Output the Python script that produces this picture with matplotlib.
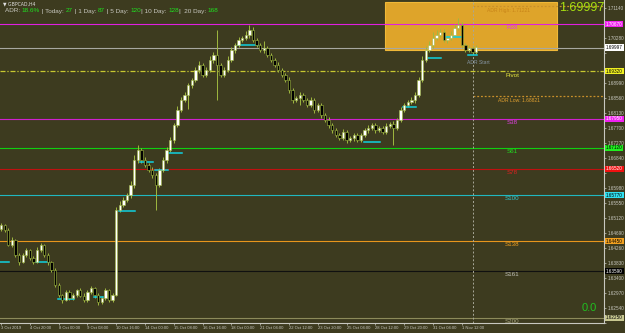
import matplotlib
matplotlib.use("Agg")
import matplotlib.pyplot as plt
from matplotlib.patches import Rectangle

plt.rcParams['font.family'] = ['Liberation Sans', 'DejaVu Sans']

# GBPCAD H4 closes, 3 Oct - 1 Nov 2019
closes = [1.6491, 1.6477, 1.6434, 1.6448, 1.6405, 1.6385,
          1.6405, 1.6419, 1.6397, 1.6385, 1.6419, 1.6434, 1.6405, 1.6385,
          1.6362, 1.6319, 1.6291, 1.6276, 1.6299, 1.6282,
          1.6291, 1.6305, 1.6288, 1.6276, 1.6299, 1.6311, 1.6291, 1.6271, 1.6282, 1.6305, 1.6276, 1.6291,
          1.6534,
          1.6548, 1.6563, 1.6577, 1.6606, 1.6677,
          1.6706,
          1.6677, 1.6663, 1.6649, 1.6634,
          1.6606,
          1.6649, 1.6677, 1.6706,
          1.6735, 1.6778, 1.6821, 1.6849,
          1.6864, 1.6892, 1.6907, 1.6935, 1.6950,
          1.6921, 1.6935, 1.6964, 1.6978, 1.6950, 1.6921, 1.6935,
          1.6964, 1.6993, 1.7007, 1.7021, 1.7027, 1.7036,
          1.7050,
          1.7021, 1.7007, 1.6993, 1.6998, 1.6978, 1.6964,
          1.6950, 1.6935, 1.6921, 1.6907, 1.6878, 1.6849,
          1.6855, 1.6864, 1.6849, 1.6835, 1.6849, 1.6821,
          1.6835, 1.6806, 1.6792, 1.6778, 1.6763,
          1.6749, 1.6740, 1.6758, 1.6735, 1.6740, 1.6749, 1.6735,
          1.6749, 1.6763, 1.6769, 1.6778, 1.6763, 1.6769, 1.6758, 1.6775, 1.6781, 1.6769,
          1.6792, 1.6821, 1.6835,
          1.6844, 1.6849, 1.6864,
          1.6907, 1.6964, 1.6993,
          1.7007, 1.7027, 1.7036,
          1.7044, 1.7021, 1.7027, 1.7036,
          1.7056, 1.7064, 1.7007,
          1.6993, 1.6998, 1.6987, 1.7000]
first_open = 1.6480
# wick lengths in pips
upper_pips = [6, 4, 5, 8, 3, 5, 7, 6, 4, 5, 8, 6, 4, 5,
              4, 5, 6, 3, 7, 5,
              6, 4, 5, 8, 6, 4, 3, 5, 7, 5, 4, 6,
              10,
              12, 8, 6, 10, 14,
              15,
              6, 8, 5, 7,
              6,
              5, 8, 9,
              7, 6, 10, 8,
              9, 6, 5, 8, 12,
              6, 8, 10, 9, 72, 6, 8,
              10, 8, 7, 9, 6, 12,
              14,
              8, 6, 5, 20, 7, 6,
              5, 8, 6, 7, 9, 5,
              6, 8, 5, 7, 10, 6,
              5, 7, 6, 8, 5,
              6, 5, 8, 6, 7, 5, 6,
              7, 6, 8, 5, 6, 7, 5, 9, 6, 8,
              6, 8, 7,
              6, 9, 7,
              8, 10, 12,
              10, 18, 14,
              9, 8, 10, 12,
              10, 20, 8,
              6, 8, 5, 7]
lower_pips = [5, 6, 4, 7, 5, 8, 4, 6, 5, 7, 4, 5, 6, 8,
              6, 5, 7, 8, 4, 6,
              5, 6, 4, 7, 5, 6, 8, 9, 5, 6, 7, 5,
              4,
              6, 5, 7, 8, 10,
              8,
              7, 6, 5, 8,
              72,
              6, 5, 7,
              6, 8, 5, 7,
              6, 40, 7, 5, 8,
              6, 7, 5, 8, 101, 6, 7,
              5, 6, 8, 7, 5, 6,
              8,
              6, 7, 5, 8, 6, 7,
              6, 5, 7, 6, 8, 7,
              6, 20, 5, 7, 6, 8,
              5, 7, 6, 8, 9,
              7, 6, 5, 8, 6, 7, 5,
              6, 5, 7, 6, 8, 5, 7, 6, 5, 49,
              6, 5, 7,
              6, 5, 8,
              6, 5, 7,
              6, 8, 5,
              7, 6, 8, 5,
              6, 5, 8,
              7, 6, 5, 6]

time_labels = ['3 Oct 2019', '4 Oct 20:00', '8 Oct 00:00', '9 Oct 08:00', '10 Oct 16:00',
               '14 Oct 00:00', '15 Oct 08:00', '16 Oct 16:00', '18 Oct 00:00', '21 Oct 04:00',
               '22 Oct 12:00', '23 Oct 20:00', '25 Oct 04:00', '28 Oct 12:00', '29 Oct 20:00',
               '31 Oct 04:00', '1 Nov 12:00']

level_names = ['R38', 'Pivot', 'S38', 'S61', 'S78', 'S100', 'S138', 'S161', 'S200']
level_prices = [1.7067, 1.6932, 1.6795, 1.6712, 1.6652, 1.6577, 1.6445, 1.6359, 1.6225]
level_colors = ['#e020e0', '#c8c830', '#d020d0', '#10d010', '#c01010', '#20b8c0', '#e8961c', '#101010', '#8c8a5a']
level_text_colors = ['#e040e0', '#e8e840', '#e040e0', '#20e020', '#e02020', '#30c8d0', '#f0a020', '#c0c0b8', '#a8a680']

bid = 1.69997
adr_high = 1.7119
adr_low = 1.6861
adr_start = 131

# cyan marks: (start bar, end bar, price)
mark_start = [0, 10, 16, 26, 33, 39, 43, 47, 66, 101, 112, 119, 124, 130]
mark_end = [2, 13, 20, 28, 37, 42, 46, 50, 71, 105, 115, 122, 128, 132]
mark_price = [1.6385, 1.6385, 1.6279, 1.6285, 1.6531, 1.6672, 1.6649, 1.6698,
              1.7007, 1.6729, 1.6829, 1.6970, 1.7030, 1.6978]

bg = '#3d3b1f'
wick = '#a0b840'

fig = plt.figure(figsize=(6.25, 3.33), dpi=100)
fig.patch.set_facecolor(bg)
ax = fig.add_axes([0, 10 / 333, 604 / 625, 323 / 333])
ax.set_facecolor(bg)
ax.set_xlim(-0.3, 167.5)
ax.set_ylim(1.62102, 1.71359)

n = len(closes)
opens = [first_open] + closes[:-1]
x = list(range(n))
highs = [max(o, c) + u * 1e-4 for o, c, u in zip(opens, closes, upper_pips)]
lows = [min(o, c) - l * 1e-4 for o, c, l in zip(opens, closes, lower_pips)]

# ADR box
ax.add_patch(Rectangle((106.7, 1.6993), 47.7, 1.7130 - 1.6993, facecolor='#dea42a',
                       edgecolor='#f0b838', lw=0.8, zorder=1))

# levels
for name, p, c, tc in zip(level_names, level_prices, level_colors, level_text_colors):
    if name == 'Pivot':
        ax.axhline(p, color=c, lw=0.9, ls=(0, (4, 1.5, 1, 1.5)), zorder=2)
    else:
        ax.axhline(p, color=c, lw=0.8, zorder=2)
    ax.annotate(name, (142, p), xytext=(0, -1), textcoords='offset points',
                ha='center', va='top', fontsize=4.5, color=tc, zorder=6)
ax.axhline(bid, color='#a8a8a0', lw=0.8, zorder=2)
ax.plot([adr_start, 167.5], [adr_high, adr_high], color='#c8902a', lw=0.9, ls=(0, (1.5, 1.5)), zorder=2)
ax.plot([adr_start, 167.5], [adr_low, adr_low], color='#c8902a', lw=0.9, ls=(0, (1.5, 1.5)), zorder=2)
ax.axvline(adr_start, color='#a8a898', lw=0.7, ls=(0, (2, 2)), zorder=2)
ax.annotate('ADR Low: 1.68821', (144, adr_low), xytext=(0, -1.5), textcoords='offset points',
            ha='center', va='top', fontsize=3.6, color='#e0a030', zorder=6)
ax.annotate('ADR High: 1.71221', (141, adr_high), xytext=(0, -1.5), textcoords='offset points',
            ha='center', va='top', fontsize=3.6, color='#c88418', zorder=6)
ax.text(132.5, 1.6958, 'ADR Start', ha='center', va='center', fontsize=3.6, color='#8898a8', zorder=6)

# cyan marks
for s, e, p in zip(mark_start, mark_end, mark_price):
    ax.plot([s - 0.3, e + 0.3], [p, p], color='#10d0e0', lw=1.1, zorder=4)

# candles
ax.vlines(x, lows, highs, color=wick, lw=0.7, zorder=3)
for i in range(n):
    o, c = opens[i], closes[i]
    h = abs(c - o) if abs(c - o) > 0.00005 else 0.00005
    ax.bar(i, h, bottom=min(o, c), width=0.65, color='white' if c >= o else 'black',
           edgecolor=wick, lw=0.4, zorder=5)

ax.text(161.4, 1.7113, '1.69997', ha='center', va='center', fontsize=9, color='#a8e010', zorder=7)
ax.text(163.3, 1.6253, '0.0', ha='center', va='center', fontsize=8, color='#20c020', zorder=7)

# axes styling
for s in ['top', 'left']:
    ax.spines[s].set_visible(False)
for s in ['right', 'bottom']:
    ax.spines[s].set_color('#c8c8c0')
    ax.spines[s].set_linewidth(0.8)
ax.yaxis.tick_right()
box_prices = level_prices + [bid]
yt = [1.6211 + 0.0043 * k for k in range(22)]
ax.set_yticks(yt)
ax.set_yticklabels(['' if min(abs(v - b) for b in box_prices) < 0.0015 else '%.5f' % v for v in yt])
ax.tick_params(axis='y', colors='#c8c8c0', labelsize=3.3, length=1.5, width=0.5, pad=1)
ax.set_xticks([8 * k for k in range(len(time_labels))])
ax.set_xticklabels(time_labels, ha='left')
ax.tick_params(axis='x', colors='#c8c8c0', labelsize=3.0, length=1.5, width=0.5, pad=0.5)

# price boxes on the axis
box_text = ['white', 'black', 'white', 'black', 'white', 'black', 'black', 'white', 'black']
box_face = ['#f020f0', '#f0f020', '#f020f0', '#20f020', '#f01010', '#30e0f0', '#f0a020', '#000000', '#c8c890']
for p, f, t in zip(level_prices, box_face, box_text):
    ax.annotate('%.5f' % p, (1.0, p), xycoords=('axes fraction', 'data'), xytext=(1.5, 0),
                textcoords='offset points', ha='left', va='center', fontsize=3.3, color=t,
                bbox=dict(boxstyle='square,pad=0.15', fc=f, ec='none'), annotation_clip=False)
ax.annotate('%.5f' % bid, (1.0, bid), xycoords=('axes fraction', 'data'), xytext=(1.5, 0),
            textcoords='offset points', ha='left', va='center', fontsize=3.3, color='black',
            bbox=dict(boxstyle='square,pad=0.15', fc='white', ec='none'), annotation_clip=False)

# header
fig.text(3 / 625, 1 - 4 / 333, '\u25bc GBPCAD,H4', fontsize=3.3, color='#e0e0e0', va='center',
         family=['DejaVu Sans'])
pieces = [('ADR: ', '#c8c8c0'), ('18.6%', '#20e020'), (' | Today: ', '#c8c8c0'), ('27', '#20e020'),
          (' | 1 Day: ', '#c8c8c0'), ('87', '#20e020'), (' | 5 Day: ', '#c8c8c0'), ('120', '#20e020'),
          ('| 10 Day: ', '#c8c8c0'), ('128', '#20e020'), ('|  20 Day: ', '#c8c8c0'), ('168', '#20e020')]
fig.canvas.draw()
r = fig.canvas.get_renderer()
xpos = 5 / 625
for s, c in pieces:
    t = fig.text(xpos, 1 - 11 / 333, s, fontsize=4.6, color=c, va='center')
    xpos += t.get_window_extent(renderer=r).width / 625

fig.savefig('out.png', dpi=100, facecolor=bg)
